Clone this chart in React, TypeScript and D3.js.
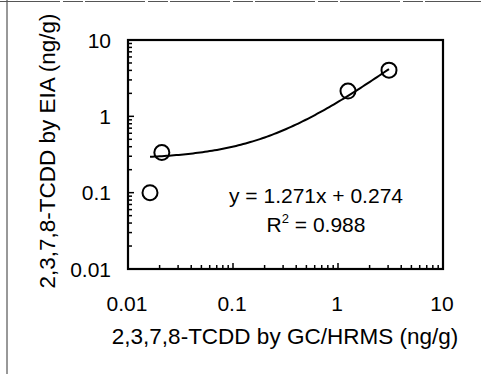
import React from 'react';
import * as d3 from 'd3';

// measured points (GC/HRMS vs EIA, ng/g)
const gcValues = [0.0162, 0.021, 1.245, 3.06];
const eiaValues = [0.1, 0.336, 2.14, 4.03];
const majorTicks = [0.01, 0.1, 1, 10];
const tickLabels = ['0.01', '0.1', '1', '10'];
// regression shown on the chart
const slope = 1.271;
const intercept = 0.274;
const fitRange = [0.0162, 3.06];

const W = 481, H = 374;
const margin = { top: 40, right: 38, bottom: 105, left: 128 };

export default function App() {
  const x = d3.scaleLog().domain([0.01, 10]).range([margin.left, W - margin.right]);
  const y = d3.scaleLog().domain([0.01, 10]).range([H - margin.bottom, margin.top]);
  const font = 'Liberation Sans, Arial, sans-serif';

  const minor = x.ticks().filter(v => v > 0.01 && v < 10);
  const isMajor = (v: number) => majorTicks.some(m => Math.abs(v - m) / m < 1e-6);

  const fitXs = d3.range(0, 101).map(i => fitRange[0] * Math.pow(fitRange[1] / fitRange[0], i / 100));
  const line = d3.line<number>().x(d => x(d)).y(d => y(slope * d + intercept));

  const pts = gcValues.map((g, i) => ({ g, e: eiaValues[i] }));

  return (
    <svg width={W} height={H} style={{ position: 'absolute', left: 0, top: 0, background: '#fff' }}>
      {/* scan frame lines */}
      <line x1={7} x2={7} y1={0} y2={H} stroke="#333" strokeWidth={1} />
      <line x1={0} x2={W} y1={1.5} y2={1.5} stroke="#555" strokeWidth={1} strokeDasharray="60 3 20 2" />

      {/* ticks */}
      {minor.map((v, i) => (
        <line key={'xt' + i} x1={x(v)} x2={x(v)} y1={y(0.01)} y2={y(0.01) - (isMajor(v) ? 6 : 4)} stroke="#000" strokeWidth={1.5} />
      ))}
      {minor.map((v, i) => (
        <line key={'yt' + i} x1={x(0.01)} x2={x(0.01) + (isMajor(v) ? 6 : 4)} y1={y(v)} y2={y(v)} stroke="#000" strokeWidth={1.5} />
      ))}

      <rect x={x(0.01)} y={y(10)} width={x(10) - x(0.01)} height={y(0.01) - y(10)} fill="none" stroke="#000" strokeWidth={2.2} />

      {/* tick labels */}
      {majorTicks.map((v, i) => (
        <text key={'xl' + i} x={x(v) - 1} y={311} textAnchor="middle" fontFamily={font} fontSize={21} fill="#000">{tickLabels[i]}</text>
      ))}
      {majorTicks.map((v, i) => (
        <text key={'yl' + i} x={111} y={y(v) + 7.5} textAnchor="end" fontFamily={font} fontSize={21} fill="#000">{tickLabels[i]}</text>
      ))}

      {/* axis titles */}
      <text x={285} y={344} textAnchor="middle" fontFamily={font} fontSize={22.5} fill="#000">2,3,7,8-TCDD by GC/HRMS (ng/g)</text>
      <text transform="translate(55,151) rotate(-90)" textAnchor="middle" fontFamily={font} fontSize={22.5} fill="#000">2,3,7,8-TCDD by EIA (ng/g)</text>

      {/* fit line */}
      <path d={line(fitXs) || ''} fill="none" stroke="#000" strokeWidth={2} />

      {/* points */}
      {pts.map((p, i) => (
        <circle key={i} cx={x(p.g)} cy={y(p.e)} r={7.5} fill="none" stroke="#000" strokeWidth={2} />
      ))}

      {/* equation */}
      <text x={316} y={203} textAnchor="middle" fontFamily={font} fontSize={21} fill="#000">y = 1.271x + 0.274</text>
      <text x={316} y={232} textAnchor="middle" fontFamily={font} fontSize={21} fill="#000">
        R<tspan fontSize={13} dy={-9}>2</tspan><tspan dy={9}> = 0.988</tspan>
      </text>
    </svg>
  );
}
